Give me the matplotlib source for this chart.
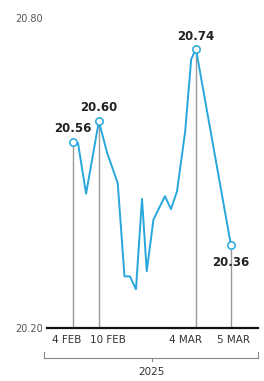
import matplotlib
matplotlib.use("Agg")
import matplotlib.pyplot as plt

# positions along the x axis (trading-day units)
x_pos = [0, 0.8, 2.0, 3.9, 5.1, 6.7, 7.7, 8.5, 9.4, 10.3, 11.0, 12.0,
         13.7, 14.6, 15.5, 16.7, 17.6, 18.3, 23.5]
rates = [20.56, 20.558, 20.46, 20.60, 20.54, 20.48, 20.30, 20.30, 20.275,
         20.45, 20.31, 20.41, 20.455, 20.43, 20.465, 20.58, 20.72, 20.74, 20.36]

# highlighted points: index into the series, label offset (points)
marked = [0, 3, 17, 18]
label_off = [(0, 5), (0, 5), (0, 4), (0, -8)]

tick_labels = ['4 FEB', '10 FEB', '4 MAR', '5 MAR']
tick_shift = [-6, 9, -10, 3]   # label shift in pixels, as drawn in the original
year = '2025'

blue = '#27a7dc'
plt.rcParams['font.family'] = ['Liberation Sans Narrow', 'DejaVu Sans']

fig = plt.figure(figsize=(2.64, 3.81), dpi=100)
ax = fig.add_axes([0.178, 0.139, 0.799, 0.814])

# grey drop lines from the marked points
for i in marked:
    ax.plot([x_pos[i], x_pos[i]], [20.20, rates[i]], color='#9a9a9a', lw=1.0, zorder=1)

ax.plot(x_pos, rates, color=blue, lw=1.4, zorder=2)
ax.scatter([x_pos[i] for i in marked], [rates[i] for i in marked], s=28,
           facecolor='white', edgecolor=blue, linewidth=1.1, zorder=3)

for i, off in zip(marked, label_off):
    ax.annotate(f'{rates[i]:.2f}', (x_pos[i], rates[i]), xytext=off,
                textcoords='offset points', ha='center',
                va='bottom' if off[1] > 0 else 'top',
                fontsize=8.5, fontweight='bold', color='#222222')

ax.set_xlim(-3.8, 27.5)
ax.set_ylim(20.20, 20.80)

for s in ['top', 'right', 'left']:
    ax.spines[s].set_visible(False)
ax.spines['bottom'].set_linewidth(1.6)
ax.spines['bottom'].set_color('#111111')

ax.set_yticks([20.20, 20.80])
ax.set_yticklabels(['20.20', '20.80'])
ax.tick_params(axis='y', length=0, pad=3, labelsize=7, labelcolor='#555555')

ax.set_xticks([])
for i, lab, dx in zip(marked, tick_labels, tick_shift):
    ax.annotate(lab, (x_pos[i], 0), xycoords=('data', 'axes fraction'),
                xytext=(dx * 0.72, -5), textcoords='offset points',
                ha='center', va='top', fontsize=7.5, color='#333333')

# bracket under the dates with the year
bx0, bx1, by = 0.168, 0.978, 0.060
fig.add_artist(plt.Line2D([bx0, bx1], [by, by], color='#888888', lw=0.8))
fig.add_artist(plt.Line2D([bx0, bx0], [by, by + 0.016], color='#888888', lw=0.8))
fig.add_artist(plt.Line2D([bx1, bx1], [by, by + 0.016], color='#888888', lw=0.8))
fig.add_artist(plt.Line2D([0.574, 0.574], [by, by - 0.008], color='#888888', lw=0.8))
fig.text(0.574, 0.024, year, ha='center', va='center', fontsize=7.5, color='#333333')

fig.savefig('out.png', dpi=100, facecolor='white')
